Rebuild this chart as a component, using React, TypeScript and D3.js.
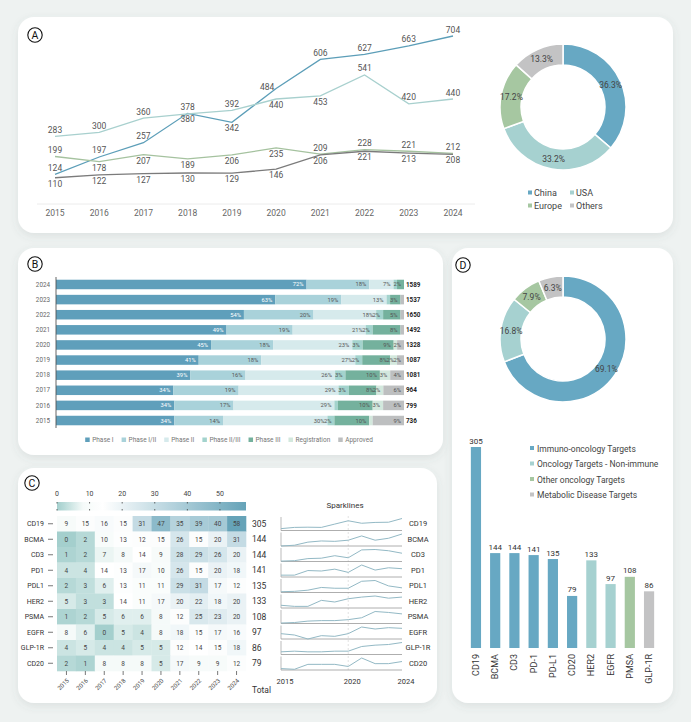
import React from 'react';
import * as d3 from 'd3';

// ---------- data ----------
const years = [2015, 2016, 2017, 2018, 2019, 2020, 2021, 2022, 2023, 2024];

const regions = ['China', 'USA', 'Europe', 'Others'];
const chinaTrials = [124, 197, 257, 380, 342, 484, 606, 627, 663, 704];
const usaTrials = [283, 300, 360, 378, 392, 440, 453, 541, 420, 440];
const europeTrials = [199, 178, 207, 189, 206, 235, 209, 228, 221, 212];
const othersTrials = [110, 122, 127, 130, 129, 146, 206, 221, 213, 208];

const phaseNames = ['Phase I', 'Phase I/II', 'Phase II', 'Phase II/III', 'Phase III', 'Registration', 'Approved'];
const phaseYears = [2024, 2023, 2022, 2021, 2020, 2019, 2018, 2017, 2016, 2015];
const phaseShares = [
  [72, 18, 7, 1, 2, 0, 0],
  [63, 19, 13, 1, 3, 0, 1],
  [54, 20, 18, 2, 5, 0, 1],
  [49, 19, 21, 2, 8, 0, 1],
  [45, 18, 23, 3, 9, 1, 2],
  [41, 18, 27, 2, 8, 2, 2],
  [39, 16, 26, 3, 10, 3, 4],
  [34, 19, 29, 3, 8, 2, 6],
  [34, 17, 29, 1, 10, 3, 6],
  [34, 14, 30, 2, 10, 1, 9],
];
const phaseTotals = [1589, 1537, 1650, 1492, 1328, 1087, 1081, 964, 799, 736];

const heatTargets = ['CD19', 'BCMA', 'CD3', 'PD1', 'PDL1', 'HER2', 'PSMA', 'EGFR', 'GLP-1R', 'CD20'];
const heatCounts = [
  [9, 15, 16, 15, 31, 47, 35, 39, 40, 58],
  [0, 2, 10, 13, 12, 15, 26, 15, 20, 31],
  [1, 2, 7, 8, 14, 9, 28, 29, 26, 20],
  [4, 4, 14, 13, 17, 10, 26, 15, 20, 18],
  [2, 3, 6, 13, 11, 11, 29, 31, 17, 12],
  [5, 3, 3, 14, 11, 17, 20, 22, 18, 20],
  [1, 2, 5, 6, 6, 8, 12, 25, 23, 20],
  [8, 6, 0, 5, 4, 8, 18, 15, 17, 16],
  [4, 5, 4, 4, 5, 5, 12, 14, 15, 18],
  [2, 1, 8, 8, 8, 5, 17, 9, 9, 12],
];
const colorTicks = [0, 10, 20, 30, 40, 50];
const sparkTicks = [2015, 2020, 2024];

const targetClasses = ['Immuno-oncology Targets', 'Oncology Targets - Non-immune', 'Other oncology Targets', 'Metabolic Disease Targets'];
const barTargets = ['CD19', 'BCMA', 'CD3', 'PD-1', 'PD-L1', 'CD20', 'HER2', 'EGFR', 'PMSA', 'GLP-1R'];
const barValues = [305, 144, 144, 141, 135, 79, 133, 97, 108, 86];
const barClassIndex = [0, 0, 0, 0, 0, 0, 1, 1, 2, 3];

// ---------- style ----------
const FONT = 'Roboto, "Noto Sans", sans-serif';
const catColors = ['#67a8c3', '#a6d1d0', '#a6c7a1', '#c3c3c4'];
const lineColors = ['#5c9eb8', '#a8d0ce', '#a5c29f', '#7b7b7b'];
const phaseColors = ['#5f9fbb', '#a9d2da', '#d6eaec', '#a3d3cd', '#74b19d', '#d3e8dd', '#bdbfc0'];

// label placement for panel A: a = above, b = below, l = left
const labelSides = ['aaabblaaaa', 'aaaaabbaaa', 'abbbbbaaaa', 'bbbbbbbbbb'];

let ctx: CanvasRenderingContext2D | null = null;
const textWidth = (t: string, size: number) => {
  if (!ctx) ctx = document.createElement('canvas').getContext('2d');
  if (!ctx) return t.length * size * 0.55;
  ctx.font = `${size}px Roboto`;
  return ctx.measureText(t).width;
};

const Panel = ({ x, y, w, h }: { x: number; y: number; w: number; h: number }) => (
  <rect x={x} y={y} width={w} height={h} rx={16} fill="#fff" filter="url(#shadow)" />
);

const Badge = ({ x, y, t }: { x: number; y: number; t: string }) => (
  <g>
    <circle cx={x} cy={y} r={7.2} fill="none" stroke="#111" strokeWidth={1.1} />
    <text x={x} y={y + 3.6} textAnchor="middle" fontSize={10.5} fill="#111">{t}</text>
  </g>
);

const Donut = ({ cx, cy, values }: { cx: number; cy: number; values: number[] }) => {
  const pie = d3.pie<number>().sort(null).value(d => d)(values);
  const arc = d3.arc<d3.PieArcDatum<number>>().innerRadius(42).outerRadius(63);
  const total = d3.sum(values);
  return (
    <g transform={`translate(${cx},${cy})`}>
      {pie.map((p, i) => (
        <path key={i} d={arc(p) || ''} fill={catColors[i]} stroke="#fff" strokeWidth={1.5} />
      ))}
      {pie.map((p, i) => {
        const [lx, ly] = arc.centroid(p);
        return (
          <text key={'t' + i} x={lx} y={ly + 3} textAnchor="middle" fontSize={8.5} fill="#444">
            {((p.value / total) * 100).toFixed(1)}%
          </text>
        );
      })}
    </g>
  );
};

export default function App() {
  // ----- panel A -----
  const series = [chinaTrials, usaTrials, europeTrials, othersTrials];
  const ax = d3.scalePoint<number>().domain(years).range([55, 453]);
  const ay = d3.scaleLinear().domain([0, d3.max(chinaTrials) as number]).range([204, 36]);
  const line = d3.line<number>().x((d, i) => ax(years[i]) as number).y(d => ay(d));
  const regionTotals = series.map(s => d3.sum(s));

  // ----- panel B -----
  const bx = d3.scaleLinear().domain([0, 1]).range([56, 404]);
  const by = d3.scaleBand<number>().domain(phaseYears).range([277, 428]).paddingInner(0.37).paddingOuter(0.18);
  const legendItems = phaseNames.map(n => 7 + textWidth(n, 6.5) + 8);
  const legendW = d3.sum(legendItems) - 8;
  let lx0 = 229 - legendW / 2;
  const legendX = legendItems.map(w => { const x = lx0; lx0 += w; return x; });

  // ----- panel C -----
  const hx = d3.scaleBand<number>().domain(years).range([57, 246]);
  const hy = d3.scaleBand<string>().domain(heatTargets).range([516, 671]);
  const heatColor = d3.scaleLinear<string>()
    .domain([0, 2, 8, 14, 58])
    .range(['#a4cfcd', '#b6d9d7', '#f5faf9', '#ffffff', '#66a3b8'])
    .clamp(true);
  const cbx = d3.scaleLinear().domain([0, 58]).range([57, 246]);
  const sx = d3.scaleLinear().domain([2015, 2024]).range([281, 402]);

  // ----- panel D -----
  const dx = d3.scaleBand<string>().domain(barTargets).range([467, 658]).paddingInner(0.47).paddingOuter(0.2);
  const dy = d3.scaleLinear().domain([0, d3.max(barValues) as number]).range([648, 447]);
  const classTotals = targetClasses.map((_, ci) => d3.sum(barValues.filter((_, i) => barClassIndex[i] === ci)));

  return (
    <svg width={691} height={722} style={{ position: 'absolute', left: 0, top: 0 }} fontFamily={FONT}>
      <defs>
        <filter id="shadow" x="-10%" y="-10%" width="120%" height="125%">
          <feDropShadow dx={0} dy={3} stdDeviation={4} floodColor="#5a6b6b" floodOpacity={0.12} />
        </filter>
        <linearGradient id="cbar" x1="0" x2="1" y1="0" y2="0">
          {d3.range(0, 59, 1).map(v => (
            <stop key={v} offset={`${(v / 58) * 100}%`} stopColor={heatColor(v)} />
          ))}
        </linearGradient>
      </defs>
      <rect width={691} height={722} fill="#eef2f1" />

      {/* panels */}
      <Panel x={18} y={17} w={655} h={216} />
      <Panel x={18} y={248} w={425} h={207} />
      <Panel x={18} y={468} w={419} h={235} />
      <Panel x={452} y={248} w={221} h={455} />
      <Badge x={35} y={35} t="A" />
      <Badge x={35} y={264} t="B" />
      <Badge x={32} y={483} t="C" />
      <Badge x={463} y={265} t="D" />

      {/* ===== A: lines ===== */}
      <line x1={37} x2={475} y1={204} y2={204} stroke="#ececec" />
      {years.map(y => (
        <text key={y} x={ax(y)} y={216} textAnchor="middle" fontSize={8.5} fill="#666">{y}</text>
      ))}
      {series.map((s, si) => (
        <path key={si} d={line(s) || ''} fill="none" stroke={lineColors[si]} strokeWidth={1.3} />
      ))}
      {series.map((s, si) =>
        s.map((v, i) => {
          const side = labelSides[si][i];
          const px = ax(years[i]) as number;
          const py = ay(v);
          const tx = side === 'l' ? px - 9 : px;
          const ty = side === 'a' ? py - 3.5 : side === 'b' ? py + 9 : py + 1;
          return (
            <text key={`${si}-${i}`} x={tx} y={ty} textAnchor="middle" fontSize={8.5} fill="#555">{v}</text>
          );
        })
      )}

      {/* ===== A: donut ===== */}
      <Donut cx={563} cy={107} values={regionTotals} />
      {regions.map((r, i) => {
        const x = i % 2 === 0 ? 528 : 570;
        const y = i < 2 ? 193 : 206;
        return (
          <g key={r}>
            <rect x={x} y={y - 2.5} width={4} height={4} fill={catColors[i]} />
            <text x={x + 6} y={y + 3} fontSize={9} fill="#444">{r}</text>
          </g>
        );
      })}

      {/* ===== B: stacked bars ===== */}
      {phaseYears.map((yr, ri) => {
        const shares = phaseShares[ri];
        const tot = d3.sum(shares);
        let acc = 0;
        const y0 = by(yr) as number;
        const bh = by.bandwidth();
        return (
          <g key={yr}>
            <text x={50} y={y0 + bh / 2 + 2.2} textAnchor="end" fontSize={6.3} fill="#666">{yr}</text>
            {shares.map((v, pi) => {
              const x0 = bx(acc / tot);
              acc += v;
              const x1 = bx(acc / tot);
              return (
                <g key={pi}>
                  <rect x={x0} y={y0} width={Math.max(0, x1 - x0)} height={bh} fill={phaseColors[pi]} />
                  {v >= 2 && (
                    <text x={x1 - 3} y={y0 + bh / 2 + 2} textAnchor="end" fontSize={5.8}
                      fill={pi === 0 ? '#fff' : '#555'}>{v}%</text>
                  )}
                </g>
              );
            })}
            <text x={406} y={y0 + bh / 2 + 2.2} fontSize={6.3} fontWeight="bold" fill="#222">{phaseTotals[ri]}</text>
          </g>
        );
      })}
      <line x1={56} x2={56} y1={277} y2={428} stroke="#555" strokeWidth={0.9} />
      {phaseNames.map((n, i) => (
        <g key={n}>
          <rect x={legendX[i]} y={437.5} width={4.5} height={4.5} fill={phaseColors[i]} />
          <text x={legendX[i] + 7} y={442} fontSize={6.5} fill="#777">{n}</text>
        </g>
      ))}

      {/* ===== C: heatmap ===== */}
      <rect x={57} y={502} width={189} height={8.5} fill="url(#cbar)" />
      {colorTicks.map(t => (
        <g key={t}>
          <text x={cbx(t)} y={496} textAnchor="middle" fontSize={7} fill="#444">{t}</text>
          <line x1={cbx(t)} x2={cbx(t)} y1={502} y2={503.5} stroke="#444" strokeWidth={0.8} />
          <line x1={cbx(t)} x2={cbx(t)} y1={509} y2={510.5} stroke="#444" strokeWidth={0.8} />
        </g>
      ))}
      {heatTargets.map((t, ri) => {
        const y0 = hy(t) as number;
        const bh = hy.bandwidth();
        return (
          <g key={t}>
            <text x={44} y={y0 + bh / 2 + 2.5} textAnchor="end" fontSize={7} fill="#333">{t}</text>
            <line x1={48} x2={53} y1={y0 + bh / 2} y2={y0 + bh / 2} stroke="#555" strokeWidth={0.8} />
            {heatCounts[ri].map((v, ci) => (
              <g key={ci}>
                <rect x={hx(years[ci])} y={y0} width={hx.bandwidth() + 0.3} height={bh + 0.3} fill={heatColor(v)} />
                <text x={(hx(years[ci]) as number) + hx.bandwidth() / 2} y={y0 + bh / 2 + 2.3}
                  textAnchor="middle" fontSize={6.5} fill="#444">{v}</text>
              </g>
            ))}
            <text x={252} y={y0 + bh / 2 + 3} fontSize={8.5} fill="#333">{d3.sum(heatCounts[ri])}</text>
          </g>
        );
      })}
      {years.map(y => {
        const cx = (hx(y) as number) + hx.bandwidth() / 2;
        return (
          <g key={y}>
            <line x1={cx} x2={cx} y1={671} y2={675} stroke="#555" strokeWidth={0.8} />
            <text transform={`translate(${cx + 3},${681}) rotate(-45)`} textAnchor="end" fontSize={6} fill="#444">{y}</text>
          </g>
        );
      })}
      <text x={252} y={693} fontSize={8.5} fill="#333">Total</text>

      {/* ===== C: sparklines ===== */}
      <text x={345} y={508} textAnchor="middle" fontSize={8} fill="#333">Sparklines</text>
      <line x1={sx(2020)} x2={sx(2020)} y1={516} y2={671} stroke="#e2e2e2" strokeDasharray="2,2" />
      {heatTargets.map((t, ri) => {
        const y0 = hy(t) as number;
        const base = y0 + hy.bandwidth() - 1;
        const ly = d3.scaleLinear().domain([0, d3.max(heatCounts[ri]) as number]).range([base, base - 12]);
        const sl = d3.line<number>().x((d, i) => sx(years[i])).y(d => ly(d));
        return (
          <g key={t}>
            <line x1={281} x2={281} y1={y0 + 1} y2={base} stroke="#aaa" strokeWidth={0.8} />
            <line x1={281} x2={402} y1={base} y2={base} stroke="#999" strokeWidth={0.8} />
            <path d={sl(heatCounts[ri]) || ''} fill="none" stroke="#93b9c5" strokeWidth={1} />
            <text x={418} y={y0 + 10} textAnchor="middle" fontSize={7.5} fill="#333">{t}</text>
          </g>
        );
      })}
      {sparkTicks.map(y => (
        <text key={y} x={sx(y) + 4} y={684} textAnchor="middle" fontSize={7.5} fill="#333">{y}</text>
      ))}

      {/* ===== D: donut + bars ===== */}
      <Donut cx={563} cy={339} values={classTotals} />
      {barTargets.map((t, i) => {
        const x = dx(t) as number;
        const y = dy(barValues[i]);
        return (
          <g key={t}>
            <rect x={x} y={y} width={dx.bandwidth()} height={648 - y} fill={catColors[barClassIndex[i]]} />
            <text x={x + dx.bandwidth() / 2} y={y - 3.5} textAnchor="middle" fontSize={8} fill="#333">{barValues[i]}</text>
            <text transform={`translate(${x + dx.bandwidth() / 2 + 3},${654}) rotate(-90)`} textAnchor="end"
              fontSize={9} fill="#333">{t}</text>
          </g>
        );
      })}
      {targetClasses.map((c, i) => (
        <g key={c}>
          <rect x={530} y={446 + i * 15.5} width={4} height={4} fill={catColors[i]} />
          <text x={537} y={451.5 + i * 15.5} fontSize={8.5} fill="#444">{c}</text>
        </g>
      ))}
    </svg>
  );
}
